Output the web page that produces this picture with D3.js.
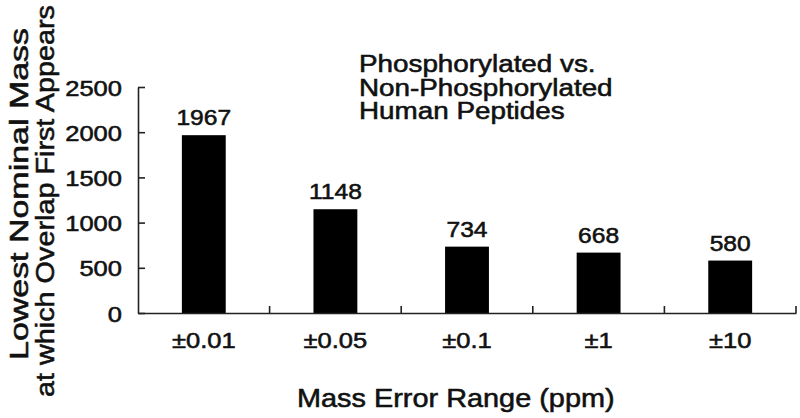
<!DOCTYPE html>
<html><head><meta charset="utf-8">
<script src="https://cdn.jsdelivr.net/npm/d3@7"></script>
<style>
html,body{margin:0;padding:0;background:#fff;}
svg text{font-family:"Liberation Sans",Arial,sans-serif;fill:#111;stroke:#111;stroke-width:0.55px;}
</style></head>
<body><svg id="c" width="800" height="418"></svg>
<script>
const categories = ["±0.01","±0.05","±0.1","±1","±10"];
const values = [1967,1148,734,668,580];
const yTicks = [0,500,1000,1500,2000,2500];
const titleLines = ["Phosphorylated vs.","Non-Phosphorylated","Human Peptides"];
const yTitleLines = ["Lowest Nominal Mass","at which Overlap First Appears"];
const xTitle = "Mass Error Range (ppm)";

const svg = d3.select("#c");
const S = 1.16; // horizontal stretch of text
const x = d3.scaleBand().domain(categories).range([138, 796]).padding(0);
const y = d3.scaleLinear().domain([0,2500]).range([313, 87]);
const bw = x.bandwidth();

// bars
svg.selectAll("rect.bar").data(values).join("rect")
  .attr("class","bar")
  .attr("x",(d,i)=>x(categories[i])+bw/3)
  .attr("width",bw/3)
  .attr("y",d=>y(d))
  .attr("height",d=>y(0)-y(d))
  .attr("fill","#000");

// value labels
svg.selectAll("text.val").data(values).join("text")
  .attr("class","val")
  .attr("text-anchor","middle")
  .attr("font-size",22)
  .attr("transform",(d,i)=>`translate(${x(categories[i])+bw/2},${y(d)-10}) scale(1.12,1)`)
  .text(d=>d);

// y axis
const ya = svg.append("g").attr("transform","translate(138,0)")
  .call(d3.axisLeft(y).tickValues(yTicks).tickFormat(d3.format("d")).tickSize(-7).tickSizeOuter(0).tickPadding(0));
ya.select(".domain").attr("stroke","#222").attr("stroke-width",1.6);
ya.selectAll(".tick line").attr("stroke","#222").attr("stroke-width",1.6);
ya.selectAll(".tick text").attr("x",null).attr("dy",null)
  .attr("font-size",22).attr("fill","#111")
  .attr("transform",`translate(-16,8) scale(${S},1)`)
  .style("font-family",'"Liberation Sans",Arial,sans-serif');

// x axis
const xa = svg.append("g").attr("transform","translate(0,313)")
  .call(d3.axisBottom(x).tickSize(0).tickSizeOuter(0).tickPadding(0));
xa.select(".domain").attr("stroke","#222").attr("stroke-width",1.6);
xa.selectAll(".tick line").remove();
xa.selectAll(".tick text").attr("y",null).attr("dy",null)
  .attr("font-size",22).attr("fill","#111")
  .attr("transform",`translate(0,35) scale(${S},1)`)
  .style("font-family",'"Liberation Sans",Arial,sans-serif');
// boundary ticks pointing up
const bounds = categories.slice(1).map(c=>x(c)).concat([x.range()[1]]);
svg.selectAll("line.bt").data(bounds).join("line")
  .attr("class","bt")
  .attr("x1",d=>d).attr("x2",d=>d)
  .attr("y1",313).attr("y2",306)
  .attr("stroke","#222").attr("stroke-width",1.6);

// title
svg.selectAll("text.title").data(titleLines).join("text")
  .attr("class","title")
  .attr("font-size",23)
  .attr("transform",(d,i)=>`translate(359,${72+i*23.5}) scale(1.21,1)`)
  .text(d=>d);

// y title
const yLens = [332, 392];
const yBase = [28, 54];
svg.selectAll("text.ytitle").data(yTitleLines).join("text")
  .attr("class","ytitle")
  .attr("font-size",25)
  .attr("text-anchor","middle")
  .attr("transform",(d,i)=>`translate(${yBase[i]},${i===0?194:201}) rotate(-90)`)
  .attr("textLength",(d,i)=>yLens[i])
  .attr("lengthAdjust","spacingAndGlyphs")
  .text(d=>d);

// x title
svg.append("text")
  .attr("font-size",25)
  .attr("text-anchor","start")
  .attr("transform",`translate(297,407) scale(1.155,1)`)
  .text(xTitle);
</script></body></html>
